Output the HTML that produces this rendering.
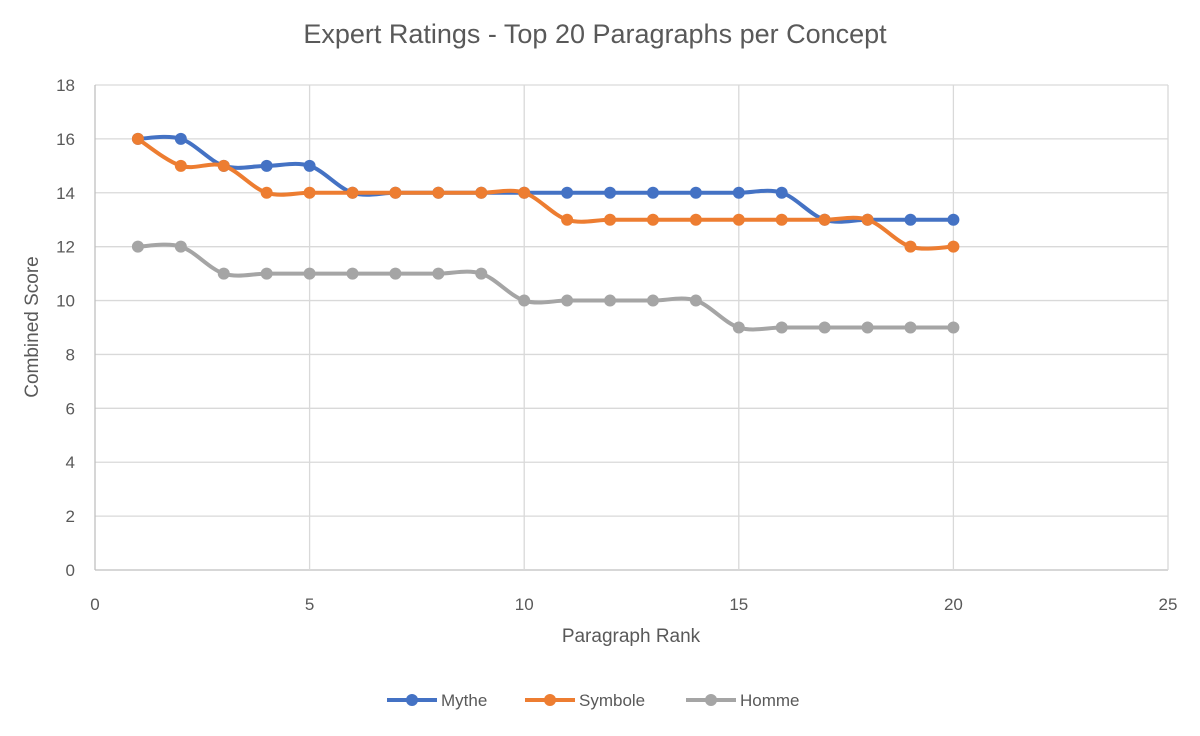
<!DOCTYPE html>
<html><head><meta charset="utf-8"><style>
body{margin:0;background:#fff;font-family:"Liberation Sans",sans-serif;}
</style></head><body>
<svg id="chart" width="1200" height="731" xmlns="http://www.w3.org/2000/svg" font-family="Liberation Sans, sans-serif">
<rect width="1200" height="731" fill="#fff"/>
<text x="595" y="43" text-anchor="middle" font-size="27" fill="#595959">Expert Ratings - Top 20 Paragraphs per Concept</text>
<g id="grid"></g><g id="series"></g>
<text x="631" y="642" text-anchor="middle" font-size="19" fill="#595959">Paragraph Rank</text>
<text transform="translate(38,327) rotate(-90)" text-anchor="middle" font-size="19" fill="#595959">Combined Score</text>
<g id="legend"></g>
</svg>
<script>
const ranks=[1,2,3,4,5,6,7,8,9,10,11,12,13,14,15,16,17,18,19,20];
const mythe=[16,16,15,15,15,14,14,14,14,14,14,14,14,14,14,14,13,13,13,13];
const symbole=[16,15,15,14,14,14,14,14,14,14,13,13,13,13,13,13,13,13,12,12];
const homme=[12,12,11,11,11,11,11,11,11,10,10,10,10,10,9,9,9,9,9,9];
const xTicks=[0,5,10,15,20,25];
const yTicks=[0,2,4,6,8,10,12,14,16,18];
const seriesNames=["Mythe","Symbole","Homme"];
const colors=["#4472c4","#ed7d31","#a5a5a5"];
const NS="http://www.w3.org/2000/svg";
const X0=95,X1=1168,Y0=570,Y1=85;
const sx=v=>X0+(v-0)/25*(X1-X0);
const sy=v=>Y0-(v-0)/18*(Y0-Y1);
function mk(t,a,p){const e=document.createElementNS(NS,t);for(const k in a)e.setAttribute(k,a[k]);p.appendChild(e);return e;}
const grid=document.getElementById('grid');
yTicks.forEach(t=>{
 const l=mk('line',{x1:X0,x2:X1,y1:sy(t),y2:sy(t),stroke:t===0?'#bfbfbf':'#d9d9d9','stroke-width':1.3},grid);
 
 
 const tx=mk('text',{x:75,y:sy(t)+6,'text-anchor':'end','font-size':17,fill:'#595959'},grid);
 tx.textContent=t;
 
 
});
xTicks.forEach(t=>{
 const l=mk('line',{x1:sx(t),x2:sx(t),y1:Y1,y2:Y0,stroke:t===0?'#bfbfbf':'#d9d9d9','stroke-width':1.3},grid);
 
 
 const tx=mk('text',{x:sx(t),y:Y0+40,'text-anchor':'middle','font-size':17,fill:'#595959'},grid);
 tx.textContent=t;
 
 
});
const sg=document.getElementById('series');
[mythe,symbole,homme].forEach((vals,si)=>{
 const pts=vals.map((v,i)=>[sx(ranks[i]),sy(v)]);
 let d=`M${pts[0][0]},${pts[0][1]}`;const k=1/6;
 for(let i=0;i<pts.length-1;i++){
  const p0=pts[Math.max(0,i-1)],p1=pts[i],p2=pts[i+1],p3=pts[Math.min(pts.length-1,i+2)];
  d+=` C${p1[0]+(p2[0]-p0[0])*k},${p1[1]+(p2[1]-p0[1])*k} ${p2[0]-(p3[0]-p1[0])*k},${p2[1]-(p3[1]-p1[1])*k} ${p2[0]},${p2[1]}`;
 }
 const path=mk('path',{d:d,fill:'none',stroke:colors[si],'stroke-width':4,'stroke-linejoin':'round'},sg);
 
 
 pts.forEach(p=>{
  const c=mk('circle',{cx:p[0],cy:p[1],r:6,fill:colors[si]},sg);
  
  
 });
});
const lg=document.getElementById('legend');
const lx=[387,525,686];
seriesNames.forEach((n,i)=>{
 const g=mk('g',{},lg);
 
 
 mk('line',{x1:lx[i],x2:lx[i]+50,y1:700,y2:700,stroke:colors[i],'stroke-width':4},g);
 mk('circle',{cx:lx[i]+25,cy:700,r:6,fill:colors[i]},g);
 const t=mk('text',{x:lx[i]+54,y:706,'font-size':17,fill:'#595959'},g);
 t.textContent=n;
});
</script>
</body></html>
